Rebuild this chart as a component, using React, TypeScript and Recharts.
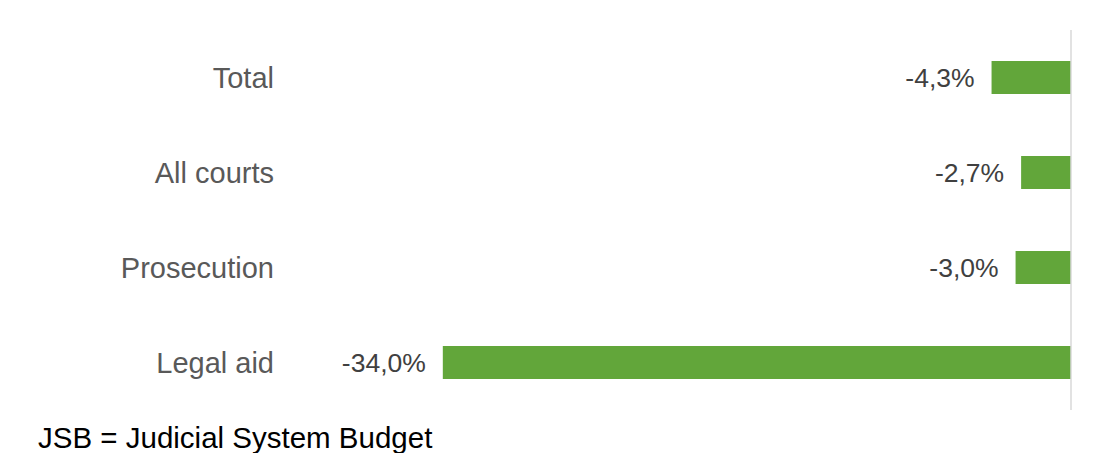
import { Bar, BarChart, LabelList, ReferenceLine, XAxis, YAxis } from "recharts";

const categories = ["Total", "All courts", "Prosecution", "Legal aid"];
const changes = [-4.3, -2.7, -3.0, -34.0];
const footnote = "JSB = Judicial System Budget";

const data = categories.map((name, i) => ({ name, value: changes[i] }));

const fmt = (v: number) => v.toFixed(1).replace(".", ",") + "%";

const FONT = "'Liberation Sans', Arial, sans-serif";

// label sits just left of the bar's left end
function ValueLabel(props: any) {
  const { x, y, width, height, value } = props;
  const left = Math.min(Number(x), Number(x) + Number(width));
  return (
    <text
      x={left - 17}
      y={Number(y) + Number(height) / 2}
      textAnchor="end"
      dominantBaseline="central"
      fill="#404040"
      fontSize={26.5}
      fontFamily={FONT}
    >
      {fmt(Number(value))}
    </text>
  );
}

export default function App() {
  return (
    <div style={{ fontFamily: FONT }}>
      <BarChart
        width={1080}
        height={410}
        data={data}
        layout="vertical"
        margin={{ top: 22, right: 17, bottom: 8, left: 0 }}
        barSize={33}
      >
        <XAxis type="number" domain={[-42, 0]} hide />
        <YAxis
          type="category"
          dataKey="name"
          width={287}
          axisLine={false}
          tickLine={false}
          tickSize={0}
          tickMargin={21}
          tick={{ fill: "#595959", fontSize: 29, fontFamily: FONT }}
        />
        <ReferenceLine x={0} stroke="#d9d9d9" strokeWidth={1.5} />
        <Bar dataKey="value" fill="#62a63a" isAnimationActive={false}>
          <LabelList dataKey="value" content={ValueLabel} />
        </Bar>
      </BarChart>
      <div
        style={{
          position: "absolute",
          left: 38,
          top: 423,
          fontSize: 29.5,
          lineHeight: "29px",
          color: "#000",
          whiteSpace: "nowrap",
        }}
      >
        {footnote}
      </div>
    </div>
  );
}
